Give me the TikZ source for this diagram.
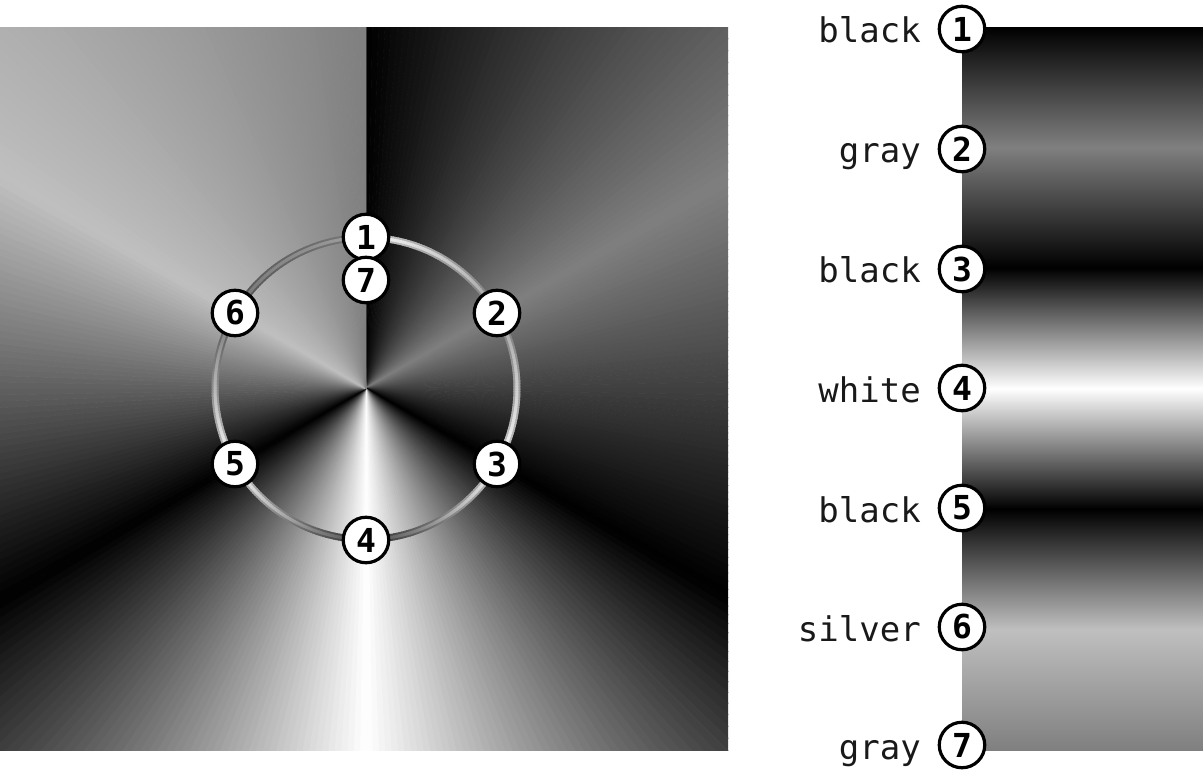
\documentclass[tikz,border=0pt]{standalone}
\usepackage{fontspec}
\newfontfamily\monof{DejaVu Sans Mono}
\usetikzlibrary{calc}
\definecolor{silvc}{gray}{0.75}
\definecolor{grayc}{gray}{0.5}
\pgfdeclareverticalshading{stripshade}{100bp}{color(0bp)=(grayc); color(25bp)=(grayc); color(33.3333bp)=(silvc); color(41.6667bp)=(black); color(50bp)=(white); color(58.3333bp)=(black); color(66.6667bp)=(grayc); color(75bp)=(black); color(100bp)=(black)}
\begin{document}
\begin{tikzpicture}[x=1pt,y=-1pt,
  numc/.style={circle, draw=black, fill=white, line width=3.2pt, minimum size=45.5pt, inner sep=0pt,
    font=\monof\bfseries\fontsize{33}{33}\selectfont},
  lbl/.style={anchor=base east, inner sep=0pt, text=black!90,
    font=\monof\fontsize{34}{36}\selectfont}]
\useasboundingbox (0,0) rectangle (1203,771);
\coordinate (c) at (366,388.5);
% conic gradient square
\begin{scope}
\clip (0,27) rectangle (728,750);
\foreach \k/\va/\vb in {0/0/0.5, 1/0.5/0, 2/0/1, 3/1/0, 4/0/0.75, 5/0.75/0.5}{
  \foreach \i in {0,...,59}{
    \pgfmathsetmacro\pv{100*(1-(\va+(\vb-\va)*(\i+0.5)/60))}
    \pgfmathsetmacro\phia{60*\k+\i-90}
    \pgfmathsetmacro\phib{\phia+1}
    \filldraw[fill={black!\pv}, draw={black!\pv}, line width=0.7pt, line join=round]
      (c) -- +(\phia:560) -- +(\phib:560) -- cycle;
  }
}
\end{scope}
% ring (tube)
\foreach \k/\va/\vb in {0/0/0.5, 1/0.5/0, 2/0/1, 3/1/0, 4/0/0.75, 5/0.75/0.5}{
  \foreach \i in {0,...,59}{
    \pgfmathsetmacro\qv{100*(1-(0.18+0.6*(1-(\va+(\vb-\va)*(\i+0.5)/60))))}
    \pgfmathsetmacro\phia{60*\k+\i-90}
    \pgfmathsetmacro\phib{\phia+1.4}
    \draw[line width=7pt, draw={black!\qv}] ($(c)+(\phia:151)$) arc[start angle=\phia, end angle=\phib, radius=151];
  }
}
\foreach \k/\va/\vb in {0/0/0.5, 1/0.5/0, 2/0/1, 3/1/0, 4/0/0.75, 5/0.75/0.5}{
  \foreach \i in {0,...,59}{
    \pgfmathsetmacro\qv{100*(1-(0.28+0.7*(1-(\va+(\vb-\va)*(\i+0.5)/60))))}
    \pgfmathsetmacro\phia{60*\k+\i-90}
    \pgfmathsetmacro\phib{\phia+1.4}
    \draw[line width=3pt, draw={black!\qv}] ($(c)+(\phia:151)$) arc[start angle=\phia, end angle=\phib, radius=151];
  }
}
% markers on the ring
\node[numc] (n1) at (366,237) {1};
\node[numc] (n7) at (366,280) {7};
\node[numc] (n2) at (497,313) {2};
\node[numc] (n3) at (497,464) {3};
\node[numc] (n4) at (366,540) {4};
\node[numc] (n5) at (235,464) {5};
\node[numc] (n6) at (235,313) {6};
% linear strip
\fill[shading=stripshade] (962,27) rectangle (1203,750);
\node[numc] (r1) at (962,29) {1};
\node[numc] (r2) at (962,149) {2};
\node[numc] (r3) at (962,269) {3};
\node[numc] (r4) at (962,388) {4};
\node[numc] (r5) at (962,508) {5};
\node[numc] (r6) at (962,627) {6};
\node[numc] (r7) at (962,745) {7};
\node[lbl] (l1) at (921,42) {black};
\node[lbl] (l2) at (921,162) {gray};
\node[lbl] (l3) at (921,282) {black};
\node[lbl] (l4) at (921,402) {white};
\node[lbl] (l5) at (921,522) {black};
\node[lbl] (l6) at (921,641) {silver};
\node[lbl] (l7) at (921,759) {gray};
\end{tikzpicture}
\end{document}
